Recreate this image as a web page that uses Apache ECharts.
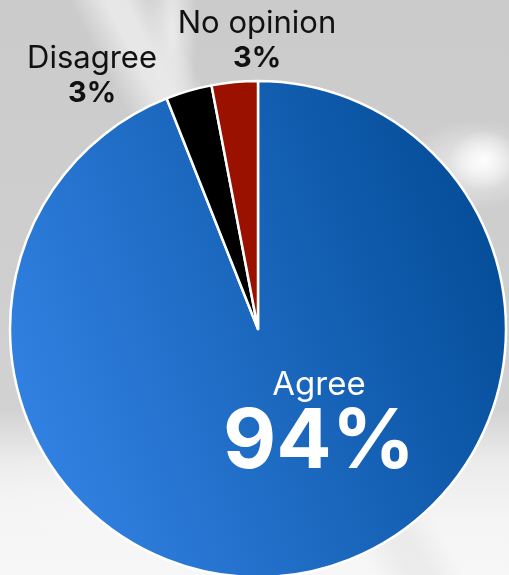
<!DOCTYPE html>
<html>
<head>
<meta charset="utf-8">
<script src="https://cdn.jsdelivr.net/npm/echarts@6/dist/echarts.min.js"></script>
<style>
  html, body { margin: 0; padding: 0; }
  body {
    width: 509px; height: 575px; overflow: hidden;
    background:
      radial-gradient(ellipse 34px 30px at 484px 160px, rgba(255,255,255,0.95), rgba(255,255,255,0) 100%),
      radial-gradient(ellipse 70px 45px at 475px 165px, rgba(250,250,250,0.7), rgba(250,250,250,0) 100%),
      linear-gradient(62deg, rgba(255,255,255,0) 0px, rgba(255,255,255,0) 330px, rgba(234,234,234,0.9) 362px, rgba(234,234,234,0.9) 380px, rgba(255,255,255,0) 410px),
      radial-gradient(ellipse 25px 110px at 172px 30px, rgba(238,238,238,0.9), rgba(238,238,238,0) 100%),
      radial-gradient(ellipse 160px 70px at 90px 520px, rgba(246,246,246,1), rgba(246,246,246,0) 100%),
      linear-gradient(to bottom, #cbcbcb 0px, #cfcfcf 300px, #d2d2d2 410px, #ebebeb 460px, #f5f5f5 520px, #f7f7f7 575px);
  }
  #chart { width: 509px; height: 575px; }
</style>
</head>
<body>
<div id="chart"></div>
<script>
// Survey response shares
const categories = ['Agree', 'Disagree', 'No opinion'];
const shares = [94, 3, 3];

const PIE_CENTER = [258, 329];
const PIE_RADIUS = 248;

// label anchor points (offset from the pie centre)
const labelOffsets = [[61, 96], [-166, -253], [-1, -288]];

const sliceColors = [
  new echarts.graphic.LinearGradient(0, 0.7, 1, 0.3, [
    { offset: 0, color: '#3383e5' },
    { offset: 1, color: '#034c97' }
  ]),
  '#000000',
  '#9b1100'
];

const chart = echarts.init(document.getElementById('chart'), null, { renderer: 'canvas' });

const FONT = 'Inter, sans-serif';

chart.setOption({
  backgroundColor: 'transparent',
  animation: false,
  series: [{
    type: 'pie',
    center: PIE_CENTER,
    radius: PIE_RADIUS,
    startAngle: 90,
    clockwise: true,
    avoidLabelOverlap: false,
    itemStyle: { borderColor: '#ffffff', borderWidth: 2.5 },
    labelLine: { show: false },
    label: {
      show: true,
      position: 'outside',
      fontFamily: FONT,
      formatter: p => '{name|' + p.name + '}\n{val|' + p.value + '%}',
      rich: {
        name: { fontFamily: FONT, fontSize: 31, color: '#111111', lineHeight: 35, align: 'center' },
        val: { fontFamily: FONT, fontSize: 29, fontWeight: 'bold', color: '#111111', lineHeight: 35, align: 'center' }
      }
    },
    labelLayout: function (params) {
      const o = labelOffsets[params.dataIndex];
      return {
        x: PIE_CENTER[0] + o[0],
        y: PIE_CENTER[1] + o[1],
        align: 'center',
        verticalAlign: 'middle'
      };
    },
    data: categories.map((name, i) => {
      const d = { name: name, value: shares[i], itemStyle: { color: sliceColors[i] } };
      if (i === 0) {
        d.label = {
          rich: {
            name: { fontFamily: FONT, fontSize: 33, color: '#ffffff', lineHeight: 36, align: 'center' },
            val: { fontFamily: FONT, fontSize: 82, fontWeight: 'bold', color: '#ffffff', lineHeight: 80, align: 'center' }
          }
        };
      }
      return d;
    })
  }]
});
</script>
</body>
</html>
